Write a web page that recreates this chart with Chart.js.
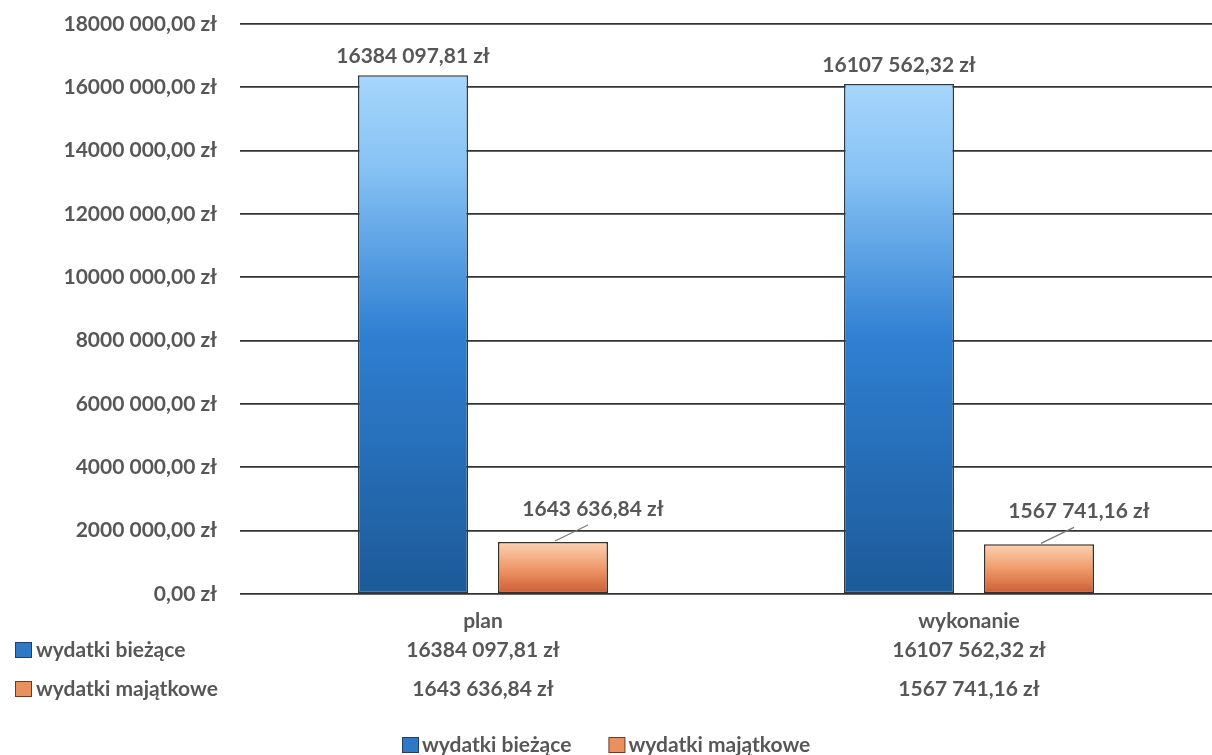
<!DOCTYPE html>
<html><head><meta charset="utf-8">
<script src="https://cdn.jsdelivr.net/npm/chart.js@4.4.0/dist/chart.umd.min.js"></script>
<style>html,body{margin:0;padding:0;background:#fff;}</style>
</head><body>
<canvas id="c" width="1212" height="755" style="display:block"></canvas>
<script>
const categories = ['plan', 'wykonanie'];
const seriesNames = ['wydatki bieżące', 'wydatki majątkowe'];
const biezace = [16384097.81, 16107562.32];
const majatkowe = [1643636.84, 1567741.16];
const biezaceLabels = ['16384 097,81 zł', '16107 562,32 zł'];
const majatkoweLabels = ['1643 636,84 zł', '1567 741,16 zł'];
const yTickLabels = ['0,00 zł', '2000 000,00 zł', '4000 000,00 zł', '6000 000,00 zł', '8000 000,00 zł',
  '10000 000,00 zł', '12000 000,00 zł', '14000 000,00 zł', '16000 000,00 zł', '18000 000,00 zł'];

const FONT = 'Lato';
const FSIZE = 21;
const TXT = '#575757';
const blueStops = [[0, '#a6d6fb'], [0.18, '#86c2f4'], [0.5, '#2f7fd2'], [1, '#1c5a98']];
const orangeStops = [[0, '#fbd2b2'], [0.5, '#ef9a6a'], [1, '#cc5a32']];
const legendColors = [['#2f78c6', '#1f3f66'], ['#e8915f', '#6b3b25']];

function grad(ctx, stops) {
  const chart = ctx.chart;
  const y = chart.scales && chart.scales.y;
  if (!y || ctx.type !== 'data' || !chart.chartArea) return stops[2 < stops.length ? 2 : 1][1];
  const top = y.getPixelForValue(ctx.raw);
  const bot = y.getPixelForValue(0);
  const g = chart.ctx.createLinearGradient(0, top, 0, bot);
  stops.forEach(s => g.addColorStop(s[0], s[1]));
  return g;
}

const extras = {
  id: 'extras',
  afterDatasetsDraw(chart) {
    const c = chart.ctx;
    c.save();
    c.font = `bold ${FSIZE}px ${FONT}`;
    c.fillStyle = TXT;
    c.textAlign = 'center';
    c.textBaseline = 'middle';
    const m0 = chart.getDatasetMeta(0), m1 = chart.getDatasetMeta(1);
    m0.data.forEach((b, i) => {
      c.fillText(biezaceLabels[i], b.x, b.y - 19);
    });
    m1.data.forEach((b, i) => {
      c.strokeStyle = '#7a7a7a';
      c.lineWidth = 1.2;
      c.beginPath();
      c.moveTo(b.x + 2, b.y - 1);
      c.lineTo(b.x + 35, b.y - 17);
      c.stroke();
      c.fillText(majatkoweLabels[i], b.x + 40, b.y - 33);
    });
    c.restore();
  },
  afterDraw(chart) {
    const c = chart.ctx;
    const x = chart.scales.x;
    c.save();
    c.font = `bold ${FSIZE}px ${FONT}`;
    c.fillStyle = TXT;
    c.textBaseline = 'middle';
    const rows = [[biezaceLabels, 650], [majatkoweLabels, 689]];
    rows.forEach((r, ri) => {
      const yy = r[1];
      c.fillStyle = legendColors[ri][0];
      c.strokeStyle = legendColors[ri][1];
      c.lineWidth = 1;
      c.fillRect(15.5, yy - 7.5, 16, 15);
      c.strokeRect(15.5, yy - 7.5, 16, 15);
      c.fillStyle = TXT;
      c.textAlign = 'left';
      c.fillText(seriesNames[ri], 36, yy);
      c.textAlign = 'center';
      r[0].forEach((t, i) => c.fillText(t, x.getPixelForValue(i), yy));
    });
    const boxW = 16, gapBT = 4, itemGap = 37;
    const widths = seriesNames.map(n => boxW + gapBT + c.measureText(n).width);
    const total = widths[0] + widths[1] + itemGap;
    let lx = Math.round(chart.width / 2 - total / 2);
    const ly = 745;
    seriesNames.forEach((n, i) => {
      c.fillStyle = legendColors[i][0];
      c.strokeStyle = legendColors[i][1];
      c.fillRect(lx + 0.5, ly - 7.5, boxW, 15);
      c.strokeRect(lx + 0.5, ly - 7.5, boxW, 15);
      c.fillStyle = TXT;
      c.textAlign = 'left';
      c.fillText(n, lx + boxW + gapBT, ly);
      lx += widths[i] + itemGap;
    });
    c.restore();
  }
};

new Chart(document.getElementById('c'), {
  type: 'bar',
  data: {
    labels: categories,
    datasets: [
      { label: seriesNames[0], data: biezace, backgroundColor: ctx => grad(ctx, blueStops),
        borderColor: '#2e3a46', borderWidth: 1.5, borderSkipped: false },
      { label: seriesNames[1], data: majatkowe, backgroundColor: ctx => grad(ctx, orangeStops),
        borderColor: '#3a2e28', borderWidth: 1.5, borderSkipped: false }
    ]
  },
  options: {
    responsive: false,
    animation: false,
    layout: { padding: { top: 24, right: 0, left: 0, bottom: 0 } },
    datasets: { bar: { categoryPercentage: 0.576, barPercentage: 0.786 } },
    plugins: { legend: { display: false }, tooltip: { enabled: false } },
    scales: {
      x: {
        grid: { display: false },
        border: { display: false },
        ticks: { color: TXT, font: { family: FONT, size: FSIZE, weight: 'bold' }, padding: 7 },
        afterFit(s) { s.height = 161; s.paddingLeft = 0; s.paddingRight = 0; }
      },
      y: {
        min: 0, max: 18000000,
        grid: { color: '#333333', lineWidth: 1.8, drawTicks: false },
        border: { display: false },
        ticks: { stepSize: 2000000, padding: 23, color: TXT,
          font: { family: FONT, size: FSIZE, weight: 'bold' },
          callback: v => yTickLabels[Math.round(v / 2000000)] },
        afterFit(s) { s.width = 240; s.paddingTop = 0; s.paddingBottom = 0; }
      }
    }
  },
  plugins: [extras]
});
</script>
</body></html>
